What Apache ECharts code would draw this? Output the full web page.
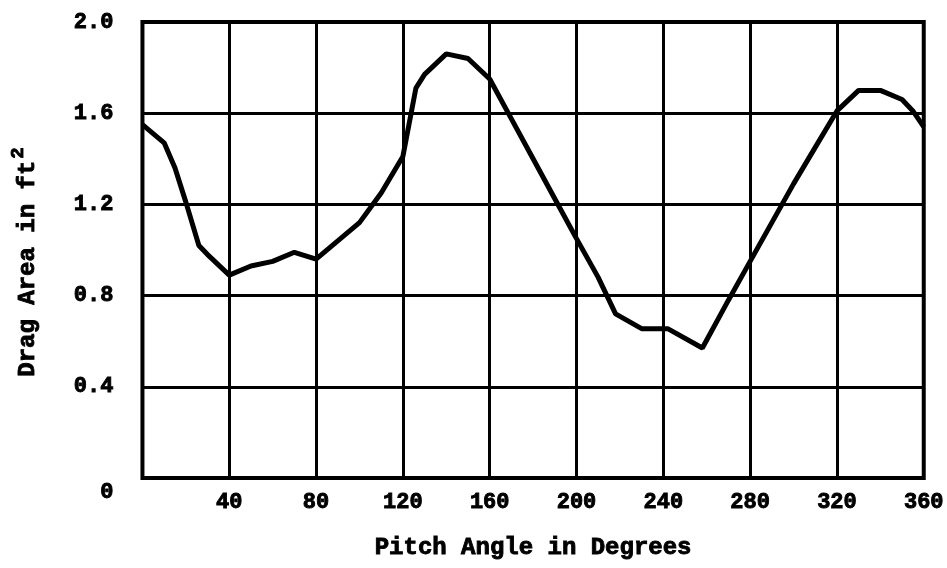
<!DOCTYPE html>
<html>
<head>
<meta charset="utf-8">
<script src="https://cdn.jsdelivr.net/npm/echarts@6/dist/echarts.min.js"></script>
<style>
  html, body { margin: 0; padding: 0; background: #fff; }
  #chart { width: 947px; height: 568px; }
</style>
</head>
<body>
<div id="chart"></div>
<script>
// pitch angle (deg) and drag area (ft^2)
var pitchAngles = [0, 10, 15, 20, 26, 30, 40, 50, 60, 70, 80, 90, 100, 110, 120, 126, 130, 140, 150, 160,
  170, 180, 190, 200, 210, 218, 230, 242, 258, 270, 280, 290, 300, 310, 320, 330, 340, 350, 355, 360];
var dragAreas = [1.55, 1.47, 1.36, 1.21, 1.02, 0.98, 0.89, 0.93, 0.95, 0.99, 0.96, 1.04, 1.12, 1.25, 1.41, 1.71, 1.77, 1.86, 1.84, 1.75,
  1.575, 1.40, 1.225, 1.05, 0.88, 0.72, 0.655, 0.655, 0.57, 0.78, 0.95, 1.12, 1.29, 1.45, 1.61, 1.70, 1.70, 1.66, 1.61, 1.54];
var yTicks = [0, 0.4, 0.8, 1.2, 1.6, 2.0];

var chart = echarts.init(document.getElementById('chart'));

var font = '"Liberation Mono", "DejaVu Sans Mono", monospace';
// typewriter text in the scan is heavy, so thicken it a little with a border
var txt = { fontFamily: font, fontWeight: 'bold', color: '#000', textBorderColor: '#000', textBorderWidth: 0.9 };
var points = pitchAngles.map(function (a, i) { return [a, dragAreas[i]]; });

var option = {
  animation: false,
  grid: { left: 142, right: 19, top: 22, bottom: 90, show: true, borderColor: '#000', borderWidth: 4 },
  xAxis: {
    type: 'value', min: 0, max: 360, interval: 40,
    name: 'Pitch Angle in Degrees', nameLocation: 'middle', nameGap: 58,
    nameTextStyle: Object.assign({ fontSize: 24 }, txt),
    axisLine: { show: false }, axisTick: { show: false },
    axisLabel: Object.assign({
      margin: 13, fontSize: 22,
      formatter: function (v) { return v === 0 ? '' : String(v); }
    }, txt),
    splitLine: { lineStyle: { color: '#000', width: 3 } }
  },
  yAxis: {
    type: 'value', min: yTicks[0], max: yTicks[yTicks.length - 1], interval: 0.4,
    name: 'Drag Area in ft{sup|2}', nameLocation: 'middle', nameGap: 95, nameRotate: 90,
    nameTextStyle: Object.assign({
      fontSize: 24, padding: [0, 24, 0, 0],
      rich: { sup: Object.assign({ fontSize: 19, verticalAlign: 'bottom', padding: [0, 0, 20, 2] }, txt) }
    }, txt),
    axisLine: { show: false }, axisTick: { show: false },
    axisLabel: Object.assign({
      margin: 29, fontSize: 22,
      formatter: function (v) { return v === 0 ? '{z|0}' : v.toFixed(1); },
      rich: { z: Object.assign({ fontSize: 22, padding: [28, 0, 0, 0] }, txt) }
    }, txt),
    splitLine: { lineStyle: { color: '#000', width: 3 } }
  },
  series: [{
    type: 'line', data: points, symbol: 'none', smooth: false,
    lineStyle: { color: '#000', width: 5 }
  }]
};

chart.setOption(option);
</script>
</body>
</html>
